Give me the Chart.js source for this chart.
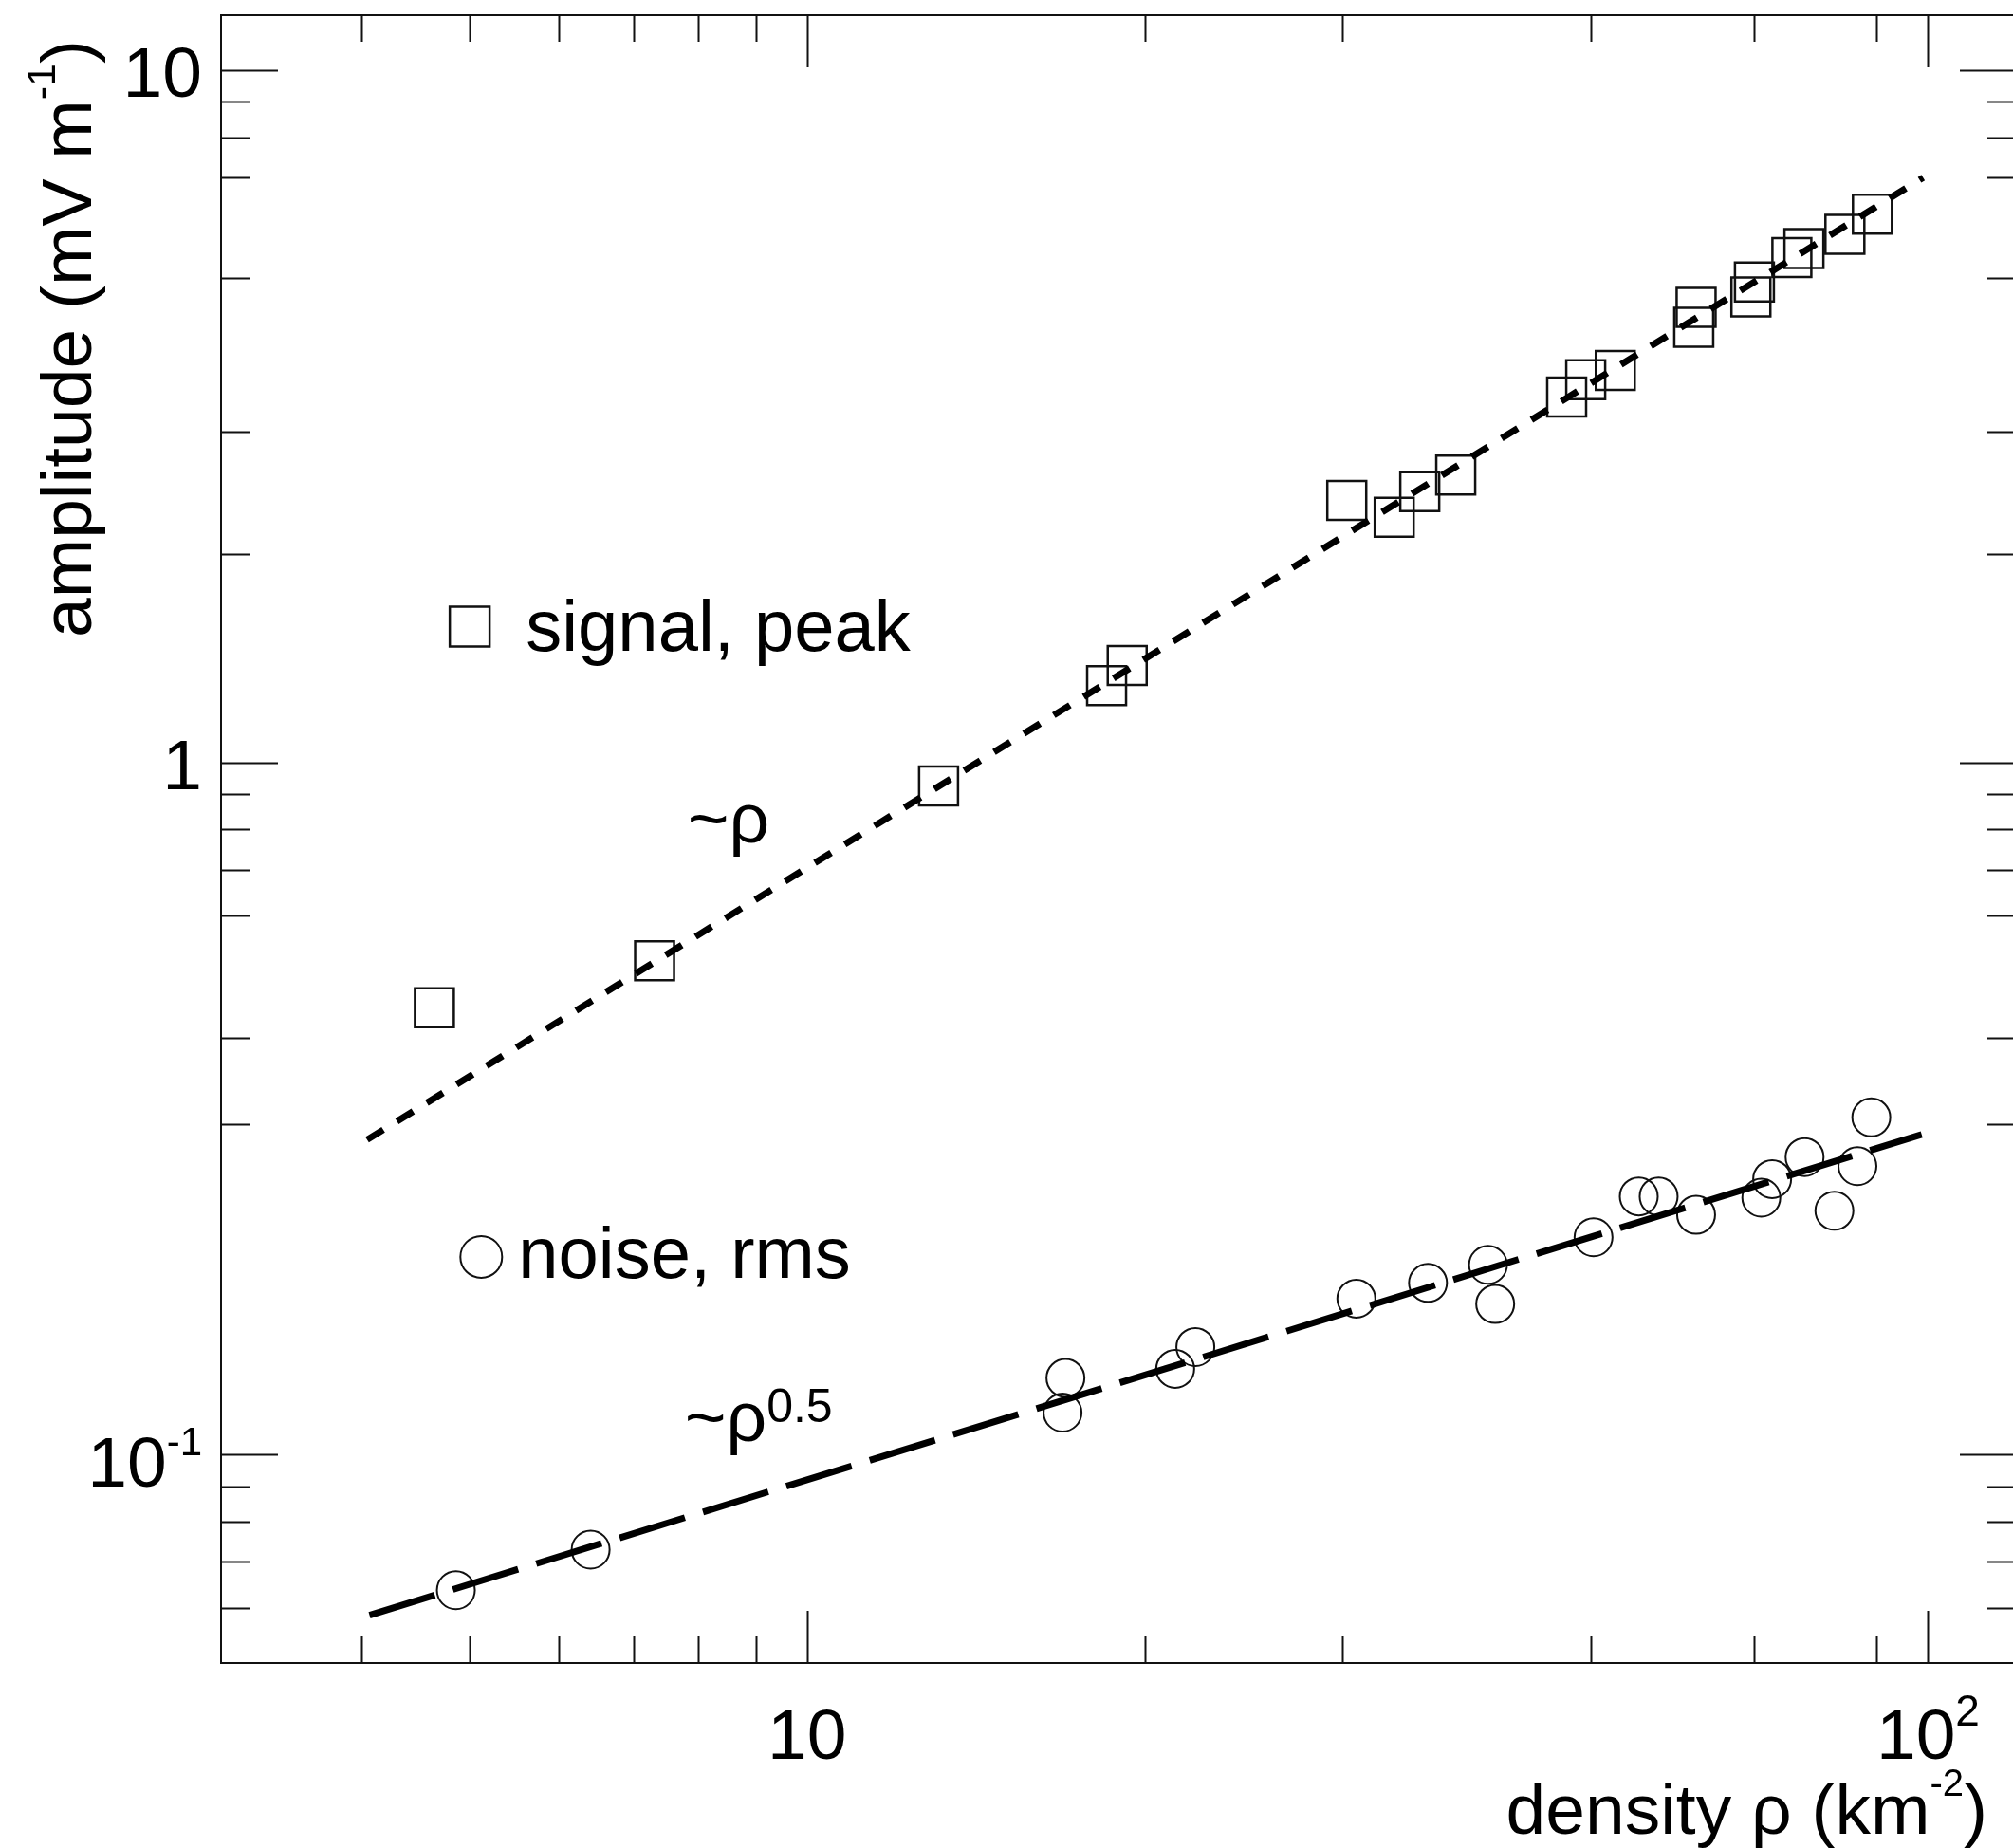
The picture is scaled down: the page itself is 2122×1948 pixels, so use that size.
<!DOCTYPE html>
<html><head><meta charset="utf-8">
<script src="https://cdn.jsdelivr.net/npm/chart.js@4.4.1/dist/chart.umd.min.js"></script>
<style>
html,body{margin:0;padding:0;background:#fff;overflow:hidden;width:2122px;height:1948px;}
#wrap{position:absolute;left:0;top:0;width:2140px;height:1948px;}
</style></head><body>
<div id="wrap"><canvas id="c" width="2140" height="1948"></canvas></div>
<script>
// ---- data ----
const signalX = [4.65, 7.31, 13.1, 18.5, 19.3, 30.3, 33.4, 35.2, 37.9, 47.6, 49.5, 52.6, 61.8, 62.1, 69.5, 70.0, 75.6, 77.5, 84.3, 89.2];
const signalY = [0.442, 0.517, 0.924, 1.29, 1.38, 2.39, 2.26, 2.46, 2.60, 3.37, 3.57, 3.68, 4.25, 4.54, 4.70, 4.94, 5.36, 5.52, 5.79, 6.19];
const noiseX = [4.86, 6.41, 16.9, 17.0, 21.3, 22.2, 30.9, 35.8, 40.5, 41.1, 50.3, 55.2, 57.5, 62.1, 71.0, 72.6, 77.6, 82.5, 86.5, 89.0];
const noiseY = [0.0637, 0.0729, 0.115, 0.129, 0.133, 0.143, 0.168, 0.177, 0.188, 0.165, 0.206, 0.236, 0.236, 0.222, 0.235, 0.250, 0.269, 0.225, 0.261, 0.307];
const fitLinX = [4.05, 99.0];
const fitLinY = [0.285, 6.99];
const fitSqrtX = [4.07, 98.7];
const fitSqrtY = [0.0586, 0.290];

const xMajorTicks = [10, 100];
const xMinorTicks = [4, 5, 6, 7, 8, 9, 20, 30, 50, 70, 90];
const yMajorTicks = [0.1, 1, 10];
const yMinorTicks = [0.06, 0.07, 0.08, 0.09, 0.3, 0.4, 0.6, 0.7, 0.8, 0.9, 2, 3, 5, 7, 8, 9];
const xTickLabels = [{v: 10, base: '10', sup: ''}, {v: 100, base: '10', sup: '2'}];
const yTickLabels = [{v: 0.1, base: '10', sup: '-1'}, {v: 1, base: '1', sup: ''}, {v: 10, base: '10', sup: ''}];

const xTitle = ['density \u03C1 (km', '-2', ')'];
const yTitle = ['amplitude (mV m', '-1', ')'];
const legendItems = [
  {text: 'signal, peak', marker: 'rect', mx: 5.0, my: 1.571, tx: 5.61, ty: 1.449},
  {text: 'noise, rms', marker: 'circle', mx: 5.12, my: 0.193, tx: 5.524, ty: 0.1798}
];
const fitLabels = [
  {text: '~\u03C1', sup: '', x: 7.82, y: 0.767},
  {text: '~\u03C1', sup: '0.5', x: 7.775, y: 0.1047}
];

// ---- drawing helpers ----
const FONT = '"Liberation Sans", Arial, Helvetica, sans-serif';
function drawRuns(ctx, runs, x, y, align) {
  let w = 0;
  runs.forEach(r => { ctx.font = r.s + 'px ' + FONT; r.w = ctx.measureText(r.t).width; w += r.w; });
  let cx = align === 'right' ? x - w : (align === 'center' ? x - w / 2 : x);
  ctx.textAlign = 'left';
  ctx.textBaseline = 'alphabetic';
  runs.forEach(r => { ctx.font = r.s + 'px ' + FONT; ctx.fillText(r.t, cx, y - (r.r || 0)); cx += r.w; });
  return w;
}

const framePlugin = {
  id: 'frame',
  afterDraw(chart) {
    const ctx = chart.ctx;
    const xs = chart.scales.x, ys = chart.scales.y;
    const a = chart.chartArea;
    ctx.save();
    ctx.strokeStyle = '#111';
    ctx.fillStyle = '#000';
    ctx.lineWidth = 2;
    ctx.strokeRect(a.left, a.top, a.right - a.left, a.bottom - a.top);
    ctx.beginPath();
    const xt = (vals, len) => vals.forEach(v => {
      const p = Math.round(xs.getPixelForValue(v)) + 0.5;
      ctx.moveTo(p, a.bottom); ctx.lineTo(p, a.bottom - len);
      ctx.moveTo(p, a.top); ctx.lineTo(p, a.top + len);
    });
    const yt = (vals, len) => vals.forEach(v => {
      const p = Math.round(ys.getPixelForValue(v)) + 0.5;
      ctx.moveTo(a.left, p); ctx.lineTo(a.left + len, p);
      ctx.moveTo(a.right, p); ctx.lineTo(a.right - len, p);
    });
    xt(xMajorTicks, 55); xt(xMinorTicks, 28);
    yt(yMajorTicks, 60); yt(yMinorTicks, 31);
    ctx.stroke();

    // tick labels
    yTickLabels.forEach(t => {
      const p = ys.getPixelForValue(t.v);
      const runs = [{t: t.base, s: 75}];
      if (t.sup) runs.push({t: t.sup, s: 42, r: 33});
      drawRuns(ctx, runs, a.left - 20, p + (t.sup ? 34 : 28), 'right');
    });
    xTickLabels.forEach(t => {
      const p = xs.getPixelForValue(t.v);
      const runs = [{t: t.base, s: 75}];
      if (t.sup) runs.push({t: t.sup, s: 46, r: 35});
      drawRuns(ctx, runs, p, a.bottom + 101, 'center');
    });

    // axis titles
    drawRuns(ctx, [{t: xTitle[0], s: 75}, {t: xTitle[1], s: 40, r: 40}, {t: xTitle[2], s: 75}], 2095, 1933, 'right');
    ctx.save();
    ctx.translate(96, 42);
    ctx.rotate(-Math.PI / 2);
    drawRuns(ctx, [{t: yTitle[0], s: 75}, {t: yTitle[1], s: 43, r: 38}, {t: yTitle[2], s: 75}], 0, 0, 'right');
    ctx.restore();

    // legend
    legendItems.forEach(l => {
      const mx = xs.getPixelForValue(l.mx), my = ys.getPixelForValue(l.my);
      ctx.beginPath();
      if (l.marker === 'rect') { ctx.lineWidth = 2.5; ctx.rect(mx - 21, my - 21, 42, 42); }
      else { ctx.lineWidth = 2; ctx.arc(mx, my, 22, 0, Math.PI * 2); }
      ctx.stroke();
      drawRuns(ctx, [{t: l.text, s: 76}], xs.getPixelForValue(l.tx), ys.getPixelForValue(l.ty), 'left');
    });
    fitLabels.forEach(f => {
      const runs = [{t: f.text, s: 75}];
      if (f.sup) runs.push({t: f.sup, s: 50, r: 20});
      drawRuns(ctx, runs, xs.getPixelForValue(f.x), ys.getPixelForValue(f.y), 'left');
    });
    ctx.restore();
  }
};

const pts = (X, Y) => X.map((x, i) => ({x: x, y: Y[i]}));

new Chart(document.getElementById('c').getContext('2d'), {
  type: 'scatter',
  data: {
    datasets: [
      {label: '~rho', data: pts(fitLinX, fitLinY), showLine: true, pointRadius: 0,
       borderColor: '#000', borderWidth: 7, borderDash: [20, 17], borderCapStyle: 'butt', fill: false},
      {label: '~rho^0.5', data: pts(fitSqrtX, fitSqrtY), showLine: true, pointRadius: 0,
       borderColor: '#000', borderWidth: 7, borderDash: [72, 20], borderCapStyle: 'butt', fill: false},
      {label: 'signal, peak', data: pts(signalX, signalY), pointStyle: 'rect', pointRadius: 29,
       borderColor: '#111', borderWidth: 2.5, backgroundColor: 'rgba(0,0,0,0)'},
      {label: 'noise, rms', data: pts(noiseX, noiseY), pointStyle: 'circle', pointRadius: 20,
       borderColor: '#111', borderWidth: 2, backgroundColor: 'rgba(0,0,0,0)'}
    ]
  },
  options: {
    responsive: false,
    animation: false,
    devicePixelRatio: 1,
    events: [],
    layout: {autoPadding: false, padding: {left: 233, top: 16, right: 14, bottom: 195}},
    plugins: {legend: {display: false}, tooltip: {enabled: false}},
    scales: {
      x: {type: 'logarithmic', min: 3, max: 120, display: false},
      y: {type: 'logarithmic', min: 0.05, max: 12, display: false}
    }
  },
  plugins: [framePlugin]
});
</script>
</body></html>
